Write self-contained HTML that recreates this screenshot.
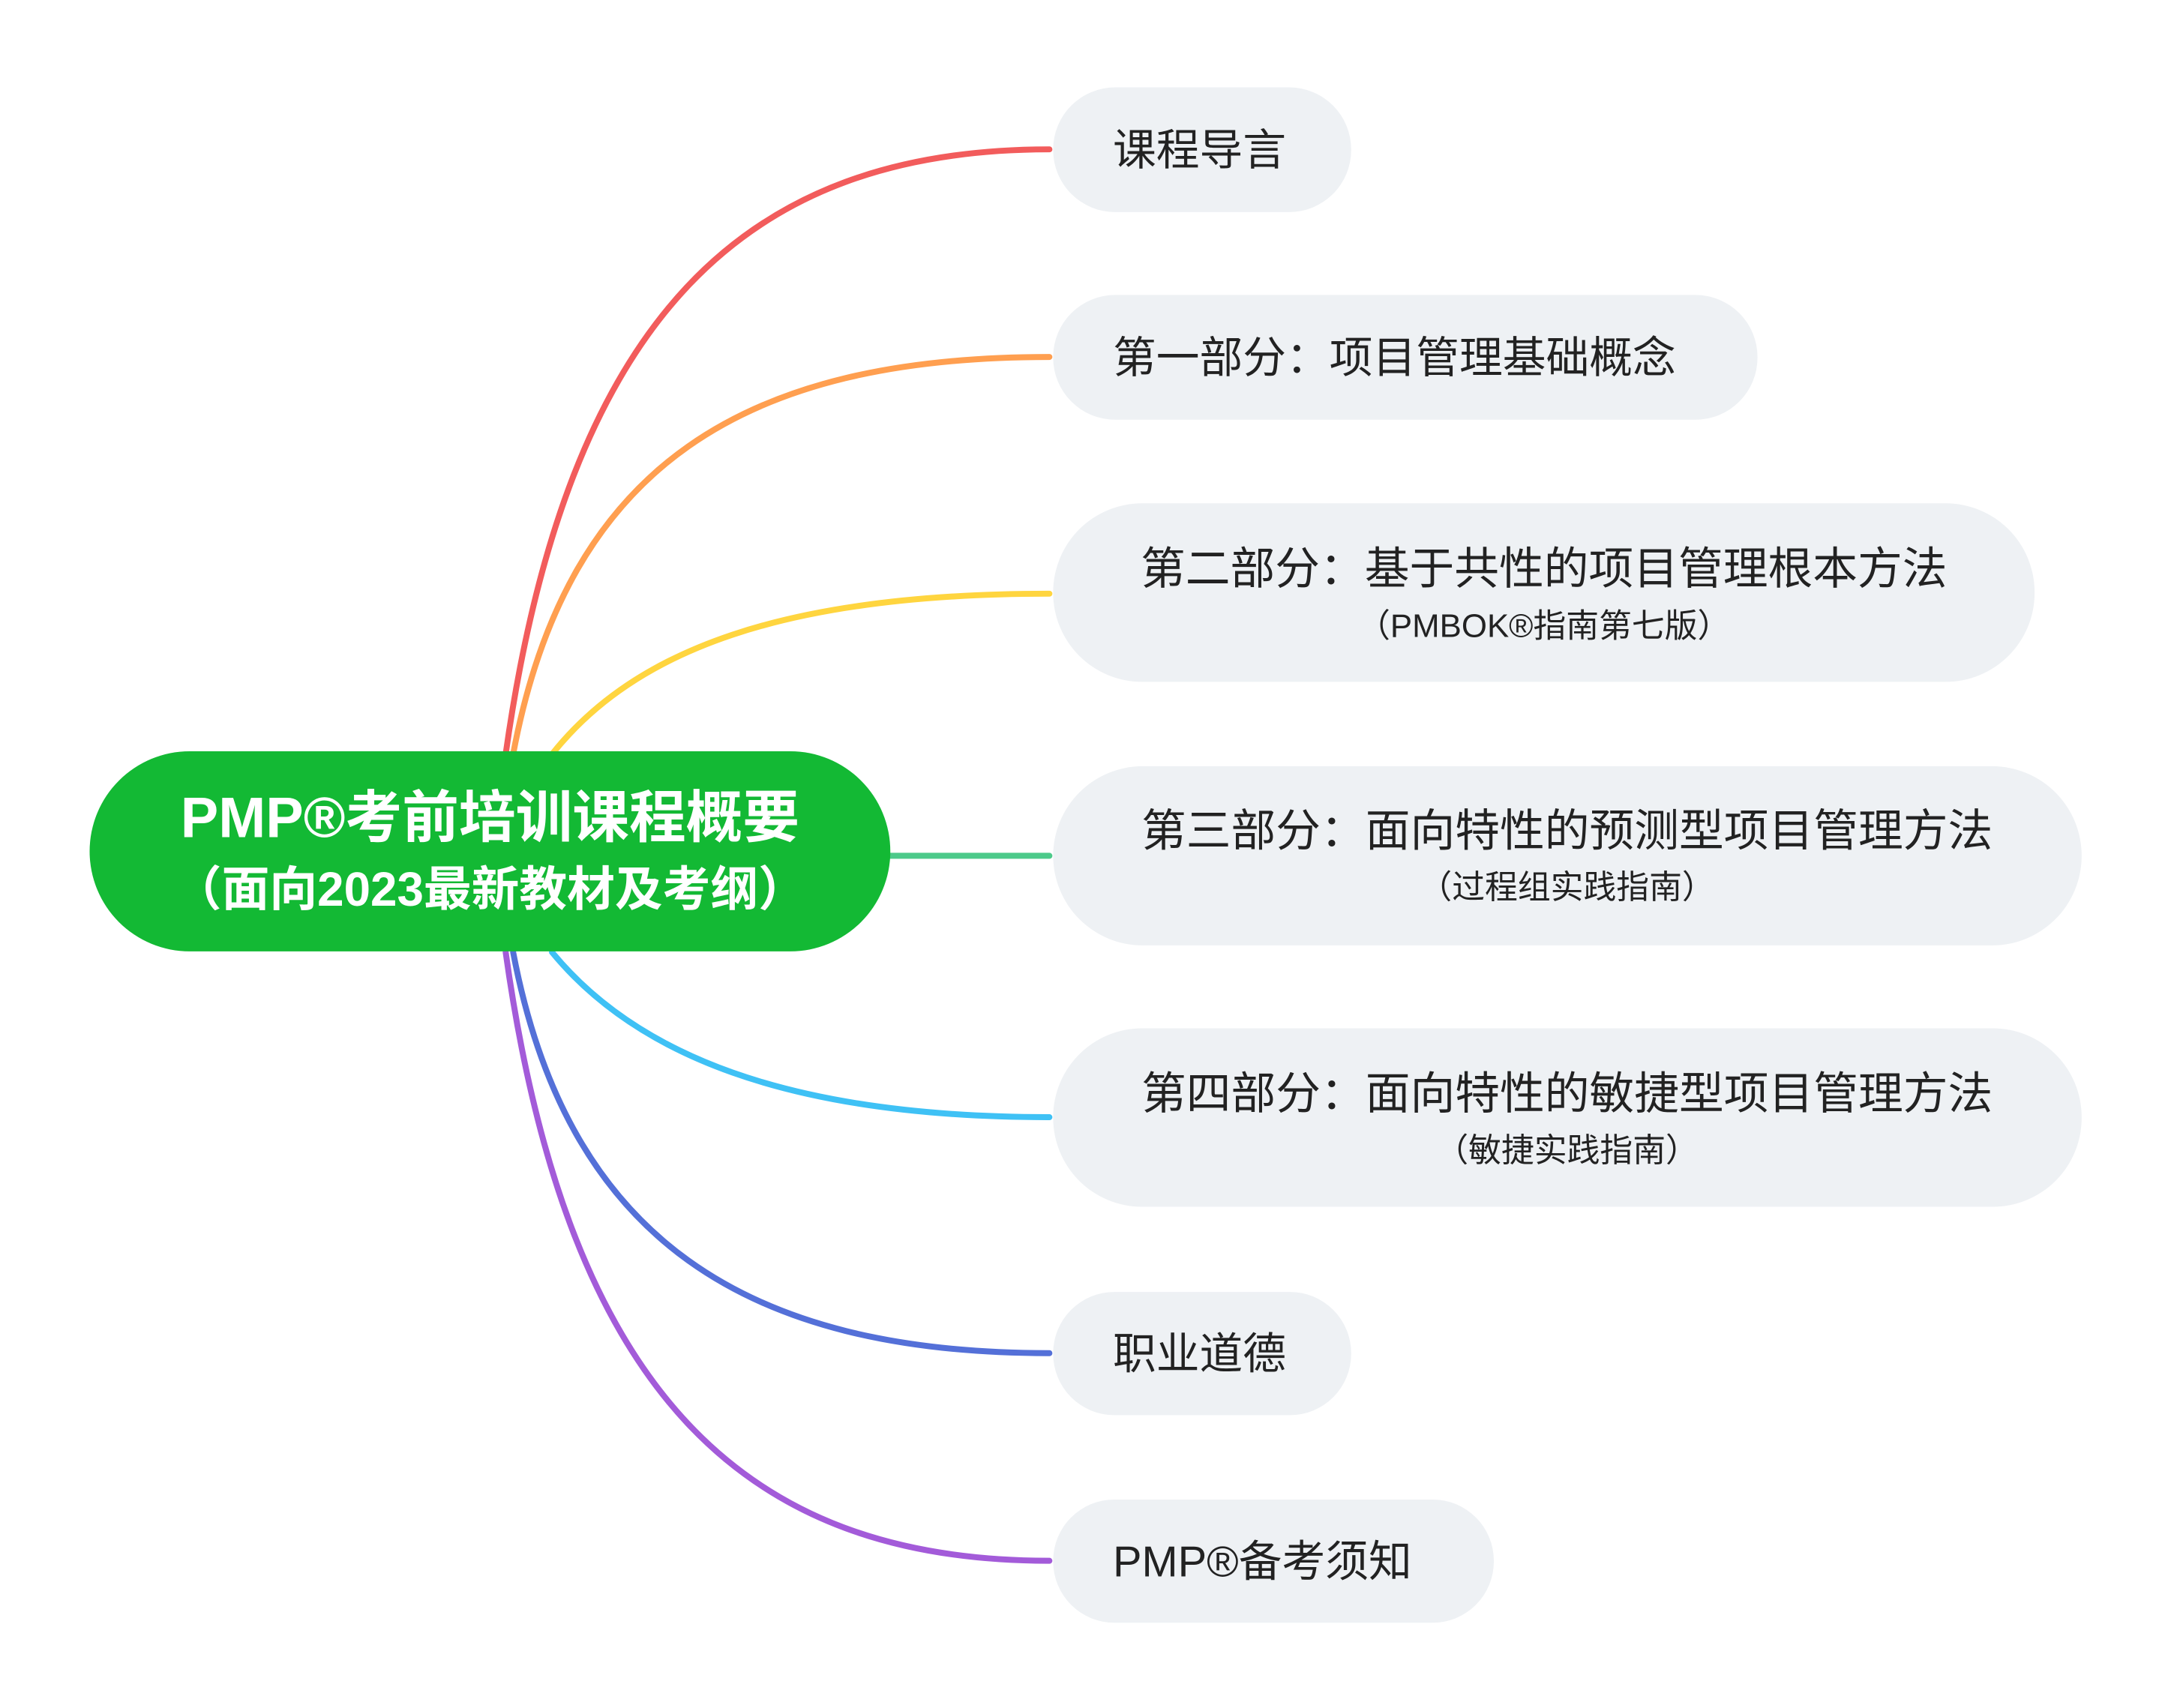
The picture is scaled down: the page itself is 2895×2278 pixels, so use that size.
<!DOCTYPE html>
<html><head><meta charset="utf-8"><style>
html,body{margin:0;padding:0;background:#fff;}
svg{display:block;}
text{font-family:"Liberation Sans","Noto Sans CJK SC",sans-serif;fill:#222;}
</style></head><body>
<svg width="2895" height="2278" viewBox="0 0 2895 2278" xmlns="http://www.w3.org/2000/svg">
<rect width="2895" height="2278" fill="#fff"/>
<g transform="scale(0.996)">
<g fill="none" stroke-width="8" stroke-linecap="round">
<path d="M677,1010 C760,420 1000,200 1405,200" stroke="#f25c5c"/>
<path d="M687,1010 C760,620 1000,478 1405,478" stroke="#ff9f50"/>
<path d="M739,1010 C850,870 1050,795 1405,795" stroke="#ffd53f"/>
<path d="M1190,1146 L1405,1146" stroke="#4cca8a"/>
<path d="M739,1275 C850,1410 1050,1496 1405,1496" stroke="#3fc1f5"/>
<path d="M687,1275 C760,1660 1000,1812 1405,1812" stroke="#5470d8"/>
<path d="M677,1275 C760,1870 1000,2090 1405,2090" stroke="#a35bd9"/>
</g>
<rect x="120" y="1006" width="1072" height="268" rx="134" fill="#13b934"/>
<text x="656" y="1121" text-anchor="middle" font-size="76" font-weight="bold" style="fill:#fff">PMP®考前培训课程概要</text>
<text x="656" y="1213" text-anchor="middle" font-size="64" font-weight="bold" style="fill:#fff">（面向2023最新教材及考纲）</text>
<g fill="#eef1f4">
<rect x="1410" y="117" width="399" height="167" rx="83"/>
<rect x="1410" y="395" width="943" height="167" rx="83"/>
<rect x="1410" y="674" width="1314" height="239" rx="119"/>
<rect x="1410" y="1026" width="1377" height="240" rx="120"/>
<rect x="1410" y="1377" width="1377" height="239" rx="119"/>
<rect x="1410" y="1730" width="399" height="165" rx="82"/>
<rect x="1410" y="2008" width="590" height="165" rx="82"/>
</g>
<g font-size="58">
<text x="1490" y="221">课程导言</text>
<text x="1490" y="499">第一部分：项目管理基础概念</text>
<text x="2067" y="782" text-anchor="middle" font-size="60">第二部分：基于共性的项目管理根本方法</text>
<text x="2067" y="853" text-anchor="middle" font-size="44">（PMBOK®指南第七版）</text>
<text x="2098" y="1133" text-anchor="middle" font-size="60">第三部分：面向特性的预测型项目管理方法</text>
<text x="2098" y="1203" text-anchor="middle" font-size="44">（过程组实践指南）</text>
<text x="2098" y="1485" text-anchor="middle" font-size="60">第四部分：面向特性的敏捷型项目管理方法</text>
<text x="2098" y="1555" text-anchor="middle" font-size="44">（敏捷实践指南）</text>
<text x="1490" y="1833">职业道德</text>
<text x="1490" y="2111">PMP®备考须知</text>
</g>
</g>
</svg>
</body></html>
